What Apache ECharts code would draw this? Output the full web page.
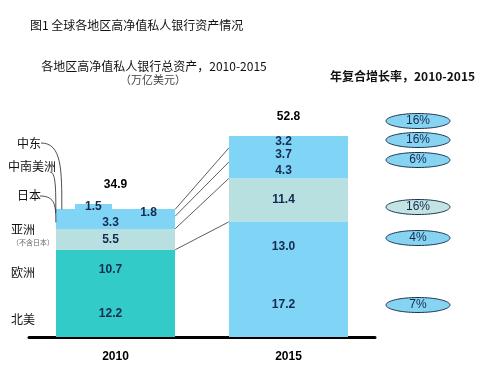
<!DOCTYPE html>
<html>
<head>
<meta charset="utf-8">
<title>全球各地区高净值私人银行资产情况</title>
<script src="https://cdn.jsdelivr.net/npm/echarts@6/dist/echarts.min.js"></script>
<style>
  html, body { margin: 0; padding: 0; background: #fff; }
  #chart { width: 500px; height: 375px; }
</style>
</head>
<body>
<div id="chart"></div>
<script>
const years = ['2010', '2015'];
const regions = ['北美', '欧洲', '亚洲', '日本', '中南美洲', '中东'];
const assets2010 = [12.2, 10.7, 5.5, 3.3, 1.8, 1.5];
const assets2015 = [17.2, 13.0, 11.4, 4.3, 3.7, 3.2];
const totals = [34.9, 52.8];
const cagr = ['7%', '4%', '16%', '6%', '16%', '16%'];

const TEAL = '#33cbc7', BLUE = '#80d4f6', ASIA = '#b9e0e0';
const INK = '#142a4e';
const CJK = '"Noto Sans CJK SC", sans-serif';
const NUM = '"Liberation Sans", Arial, sans-serif';
const barRatio = 0.69;

const valuesByYear = [assets2010, assets2015];

function segColor(yearIdx, r) {
  if (r === 2) return ASIA;
  if (yearIdx === 0 && r < 2) return TEAL;
  return BLUE;
}

// sum of the regions below r
function baseOf(vals, r) {
  return vals.slice(0, r).reduce((a, b) => a + b, 0);
}

function segmentSeries(r) {
  return {
    name: regions[r],
    type: 'custom',
    data: valuesByYear.map((vals, i) => [i, baseOf(vals, r), vals[r]]),
    renderItem: (params, api) => {
      const yi = api.value(0);
      const base = api.value(1), v = api.value(2);
      const p0 = api.coord([yi, base]);
      const p1 = api.coord([yi, base + v]);
      const band = api.size([1, 0])[0];
      let w = band * barRatio;
      let x = p0[0] - w / 2;
      let tx = p0[0] - 5;
      // 2010: 中东 is a small step on the left, 中南美洲 label sits right
      if (yi === 0 && r === 5) { x = x + w * 0.16; w = w * 0.31; tx = x + w / 2; }
      if (yi === 0 && r === 4) tx = p0[0] + 33;
      const yb = Math.round(p0[1]), yt = Math.round(p1[1]);
      return {
        type: 'group',
        children: [
          { type: 'rect', shape: { x: Math.round(x), y: yt, width: Math.round(w), height: yb - yt },
            style: { fill: segColor(yi, r) } },
          { type: 'text', x: tx, y: (p0[1] + p1[1]) / 2, z2: 10,
            style: { text: v.toFixed(1), font: 'bold 12px ' + NUM, fill: INK, align: 'center', verticalAlign: 'middle' } }
        ]
      };
    }
  };
}

const cum = valuesByYear.map(vals => vals.map((_, r) => baseOf(vals, r + 1)));
// connectors at the tops of 欧洲, 亚洲, 日本, 中南美洲
const links = [1, 2, 3, 4].map(r => [0, cum[0][r], cum[1][r]]);

const linkSeries = {
  type: 'custom',
  data: links,
  renderItem: (params, api) => {
    const a = api.coord([0, api.value(1)]);
    const b = api.coord([1, api.value(2)]);
    const w = api.size([1, 0])[0] * barRatio;
    return { type: 'line', shape: { x1: a[0] + w / 2, y1: a[1], x2: b[0] - w / 2, y2: b[1] },
      style: { stroke: '#333', lineWidth: 0.8 } };
  }
};

// leader lines from the 2010 side labels to the bar
const leaderFrom = { 3: [40, 196], 4: [50, 172], 5: [41, 143] };
const leaderSeries = {
  type: 'custom',
  data: [
    [0, assets2010[3] / 2 + cum[0][2], 3],
    [0, assets2010[4] / 2 + cum[0][3], 4],
    [0, cum[0][4], 5]
  ],
  renderItem: (params, api) => {
    const r = api.value(2);
    const p = api.coord([0, api.value(1)]);
    const w = api.size([1, 0])[0] * barRatio;
    const ex = p[0] - w / 2 + (r === 5 ? 6 : 0);
    const s = leaderFrom[r];
    return { type: 'bezierCurve',
      shape: { x1: s[0], y1: s[1], cpx1: ex, cpy1: s[1], cpx2: ex, cpy2: s[1] + (p[1] - s[1]) * 0.4, x2: ex, y2: p[1] },
      style: { stroke: '#222', lineWidth: 0.8, fill: null } };
  }
};

const totalSeries = {
  type: 'custom',
  data: totals.map((t, i) => [i, t]),
  renderItem: (params, api) => {
    const p = api.coord([api.value(0), api.value(1)]);
    return { type: 'text', x: p[0], y: p[1] - 19,
      style: { text: api.value(1).toFixed(1), font: 'bold 12px ' + NUM, fill: '#000', align: 'center', verticalAlign: 'middle' } };
  }
};

// growth-rate ellipses on the right, one per region
const ellipseY = [305, 238, 207, 160, 140, 121];
const graphic = [
  { type: 'text', left: 30, top: 19, style: { text: '图1 全球各地区高净值私人银行资产情况', font: '12px ' + CJK, fill: '#111' } },
  { type: 'text', x: 154, y: 66, style: { text: '各地区高净值私人银行总资产，2010-2015', font: '12px ' + CJK, fill: '#111', align: 'center', verticalAlign: 'middle' } },
  { type: 'text', x: 153, y: 80, style: { text: '（万亿美元）', font: '11px ' + CJK, fill: '#444', align: 'center', verticalAlign: 'middle' } },
  { type: 'text', x: 330, y: 76, style: { text: '年复合增长率，2010-2015', font: 'bold 12px ' + CJK, fill: '#111', verticalAlign: 'middle' } },
  { type: 'text', x: 17, y: 143, style: { text: '中东', font: '12px ' + CJK, fill: '#111', verticalAlign: 'middle' } },
  { type: 'text', x: 8, y: 166, style: { text: '中南美洲', font: '12px ' + CJK, fill: '#111', verticalAlign: 'middle' } },
  { type: 'text', x: 17, y: 195, style: { text: '日本', font: '12px ' + CJK, fill: '#111', verticalAlign: 'middle' } },
  { type: 'text', x: 11, y: 229, style: { text: '亚洲', font: '12px ' + CJK, fill: '#111', verticalAlign: 'middle' } },
  { type: 'text', x: 12, y: 242, style: { text: '（不含日本）', font: '7px ' + CJK, fill: '#666', verticalAlign: 'middle' } },
  { type: 'text', x: 11, y: 272, style: { text: '欧洲', font: '12px ' + CJK, fill: '#111', verticalAlign: 'middle' } },
  { type: 'text', x: 11, y: 319, style: { text: '北美', font: '12px ' + CJK, fill: '#111', verticalAlign: 'middle' } }
];
cagr.forEach((g, r) => {
  graphic.push({ type: 'ellipse', shape: { cx: 418, cy: ellipseY[r], rx: 32, ry: 7.5 },
    style: { fill: r === 2 ? '#c4e4e4' : '#86d4f2', stroke: '#1d3553', lineWidth: 1 } });
  graphic.push({ type: 'text', x: 418, y: ellipseY[r], z: 101,
    style: { text: g, font: '12px ' + NUM, fill: INK, align: 'center', verticalAlign: 'middle' } });
});

const chart = echarts.init(document.getElementById('chart'));
chart.setOption({
  animation: false,
  grid: { left: 29, right: 125, top: 135, bottom: 38 },
  xAxis: {
    type: 'category',
    data: years,
    axisLine: { lineStyle: { color: '#000', width: 3 } },
    axisTick: { show: false },
    axisLabel: { fontWeight: 'bold', fontSize: 12, color: '#000', margin: 14, fontFamily: NUM }
  },
  yAxis: { type: 'value', min: 0, max: 53, show: false },
  graphic,
  series: regions.map((_, r) => segmentSeries(r)).concat([linkSeries, leaderSeries, totalSeries])
});
</script>
</body>
</html>
